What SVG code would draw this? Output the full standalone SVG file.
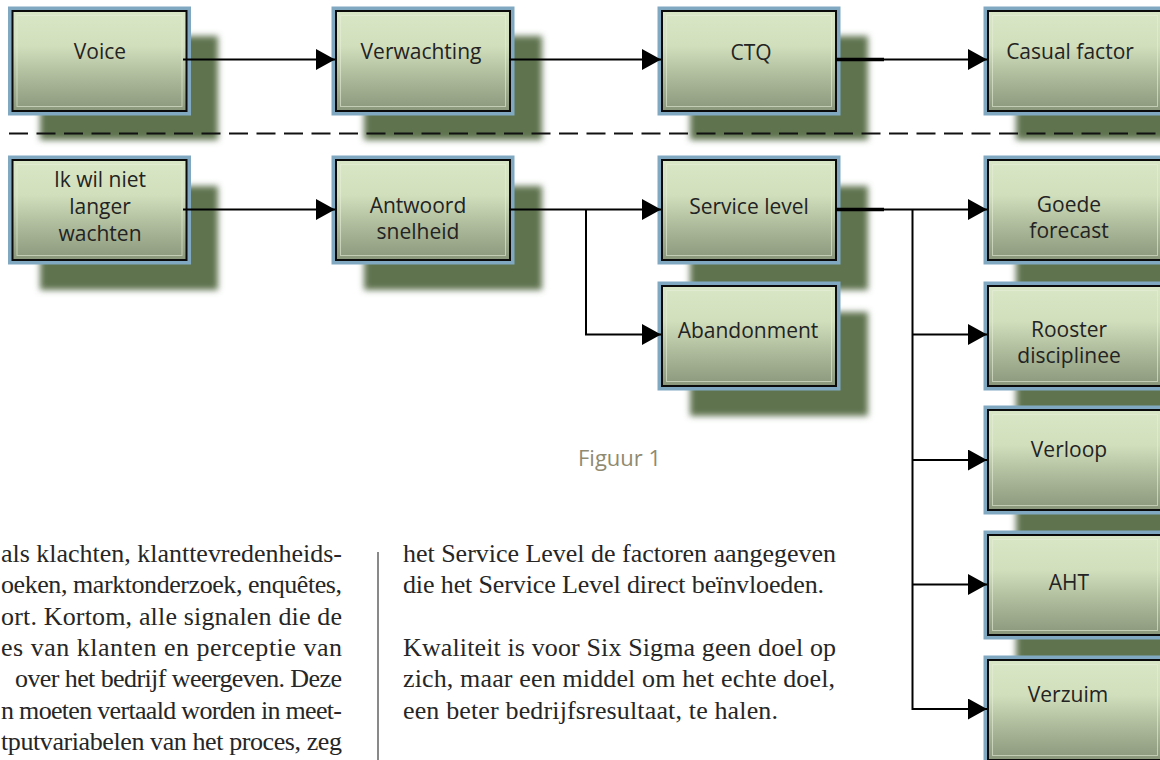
<svg xmlns="http://www.w3.org/2000/svg" width="1160" height="760" viewBox="0 0 1160 760">
<defs>
  <linearGradient id="boxfill" x1="0" y1="0" x2="0" y2="1">
    <stop offset="0" stop-color="#dae7c6"/>
    <stop offset="0.35" stop-color="#d2dfbd"/>
    <stop offset="0.7" stop-color="#a9b697"/>
    <stop offset="1" stop-color="#8b977b"/>
  </linearGradient>
  <filter id="blur" x="-20%" y="-20%" width="140%" height="140%">
    <feGaussianBlur stdDeviation="3"/>
  </filter>
  <marker id="arrow" markerUnits="userSpaceOnUse" markerWidth="20" markerHeight="22" refX="19" refY="10.5" orient="auto">
    <path d="M0,0 L19,10.5 L0,21 Z" fill="#000"/>
  </marker>
</defs>
<style>
  .shadow { fill: #5f7350; filter: url(#blur); }
  .frame { fill: #80a9c1; }
  .box { fill: url(#boxfill); stroke: #0b0b0b; stroke-width: 2; }
  .inner { fill: none; stroke: #e6eed9; stroke-opacity: 0.6; stroke-width: 1; }
  .lbl { font-family: "Open Sans", "Noto Sans", sans-serif; font-size: 21px; fill: #232323; text-anchor: middle; }
  .conn { fill: none; stroke: #000; stroke-width: 2; }
  .thick { fill: none; stroke: #000; stroke-width: 3.4; }
  .dash { fill: none; stroke: #111; stroke-width: 2; stroke-dasharray: 19 8.5; }
  .body { font-family: "Liberation Serif", "Times New Roman", serif; font-size: 26px; fill: #262626; }
  .cap { font-family: "Open Sans", "Noto Sans", sans-serif; font-size: 22px; fill: #8f8a70; }
</style>

<g id="nodes">
  <g id="n-voice">
    <rect class="shadow" x="40" y="36" width="178" height="104"/>
    <rect class="frame" x="8" y="6.5" width="183" height="109"/>
    <rect class="box" x="12.5" y="11" width="174" height="100"/>
    <rect class="inner" x="17" y="15.5" width="165" height="91"/>
    <text class="lbl" x="100" y="59">Voice</text>
  </g>
  <g id="n-verwachting">
    <rect class="shadow" x="364" y="36" width="178" height="104"/>
    <rect class="frame" x="331.5" y="6.5" width="183" height="109"/>
    <rect class="box" x="336" y="11" width="174" height="100"/>
    <rect class="inner" x="340.5" y="15.5" width="165" height="91"/>
    <text class="lbl" x="421" y="59">Verwachting</text>
  </g>
  <g id="n-ctq">
    <rect class="shadow" x="690" y="36" width="178" height="104"/>
    <rect class="frame" x="657.5" y="6.5" width="183" height="109"/>
    <rect class="box" x="662" y="11" width="174" height="100"/>
    <rect class="inner" x="666.5" y="15.5" width="165" height="91"/>
    <text class="lbl" x="751" y="60">CTQ</text>
  </g>
  <g id="n-casual">
    <rect class="shadow" x="1016" y="36" width="178" height="104"/>
    <rect class="frame" x="983.5" y="6.5" width="183" height="109"/>
    <rect class="box" x="988" y="11" width="174" height="100"/>
    <rect class="inner" x="992.5" y="15.5" width="165" height="91"/>
    <text class="lbl" x="1070" y="59">Casual factor</text>
  </g>

  <g id="n-ikwil">
    <rect class="shadow" x="40" y="186" width="178" height="104"/>
    <rect class="frame" x="8" y="155.5" width="183" height="109"/>
    <rect class="box" x="12.5" y="160" width="174" height="100"/>
    <rect class="inner" x="17" y="164.5" width="165" height="91"/>
    <text class="lbl" x="100" y="187">Ik wil niet</text>
    <text class="lbl" x="100" y="214">langer</text>
    <text class="lbl" x="100" y="241">wachten</text>
  </g>
  <g id="n-antwoord">
    <rect class="shadow" x="364" y="186" width="178" height="104"/>
    <rect class="frame" x="331.5" y="155.5" width="183" height="109"/>
    <rect class="box" x="336" y="160" width="174" height="100"/>
    <rect class="inner" x="340.5" y="164.5" width="165" height="91"/>
    <text class="lbl" x="418" y="213">Antwoord</text>
    <text class="lbl" x="418" y="239">snelheid</text>
  </g>
  <g id="n-service">
    <rect class="shadow" x="690" y="186" width="178" height="104"/>
    <rect class="frame" x="657.5" y="155.5" width="183" height="109"/>
    <rect class="box" x="662" y="160" width="174" height="100"/>
    <rect class="inner" x="666.5" y="164.5" width="165" height="91"/>
    <text class="lbl" x="749" y="214">Service level</text>
  </g>
  <g id="n-abandonment">
    <rect class="shadow" x="690" y="312" width="178" height="104"/>
    <rect class="frame" x="657.5" y="281.5" width="183" height="109"/>
    <rect class="box" x="662" y="286" width="174" height="100"/>
    <rect class="inner" x="666.5" y="290.5" width="165" height="91"/>
    <text class="lbl" x="748" y="338">Abandonment</text>
  </g>

  <g id="n-goede">
    <rect class="shadow" x="1016" y="186" width="178" height="104"/>
    <rect class="frame" x="983.5" y="155.5" width="183" height="109"/>
    <rect class="box" x="988" y="160" width="174" height="100"/>
    <rect class="inner" x="992.5" y="164.5" width="165" height="91"/>
    <text class="lbl" x="1069" y="212">Goede</text>
    <text class="lbl" x="1069" y="238">forecast</text>
  </g>
  <g id="n-rooster">
    <rect class="shadow" x="1016" y="312" width="178" height="104"/>
    <rect class="frame" x="983.5" y="281.5" width="183" height="109"/>
    <rect class="box" x="988" y="286" width="174" height="100"/>
    <rect class="inner" x="992.5" y="290.5" width="165" height="91"/>
    <text class="lbl" x="1069" y="337">Rooster</text>
    <text class="lbl" x="1069" y="363">disciplinee</text>
  </g>
  <g id="n-verloop">
    <rect class="shadow" x="1016" y="436" width="178" height="104"/>
    <rect class="frame" x="983.5" y="405.5" width="183" height="109"/>
    <rect class="box" x="988" y="410" width="174" height="100"/>
    <rect class="inner" x="992.5" y="414.5" width="165" height="91"/>
    <text class="lbl" x="1069" y="457">Verloop</text>
  </g>
  <g id="n-aht">
    <rect class="shadow" x="1016" y="561" width="178" height="104"/>
    <rect class="frame" x="983.5" y="530.5" width="183" height="109"/>
    <rect class="box" x="988" y="535" width="174" height="100"/>
    <rect class="inner" x="992.5" y="539.5" width="165" height="91"/>
    <text class="lbl" x="1069" y="590">AHT</text>
  </g>
  <g id="n-verzuim">
    <rect class="shadow" x="1016" y="686" width="178" height="104"/>
    <rect class="frame" x="983.5" y="655.5" width="183" height="109"/>
    <rect class="box" x="988" y="660" width="174" height="100"/>
    <rect class="inner" x="992.5" y="664.5" width="165" height="91"/>
    <text class="lbl" x="1068" y="702">Verzuim</text>
  </g>
</g>

<g id="connectors">
  <path class="dash" d="M9,133.5 H1160"/>
  <path class="conn" d="M183,59.5 H335" marker-end="url(#arrow)"/>
  <path class="conn" d="M509,59.5 H661" marker-end="url(#arrow)"/>
  <path class="thick" d="M836,59.5 H884"/>
  <path class="conn" d="M836,59.5 H987" marker-end="url(#arrow)"/>
  <path class="conn" d="M183,209.5 H335" marker-end="url(#arrow)"/>
  <path class="conn" d="M509,209.5 H661" marker-end="url(#arrow)"/>
  <path class="conn" d="M586,209.5 V334.5 H661" marker-end="url(#arrow)"/>
  <path class="thick" d="M836,209.5 H884"/>
  <path class="conn" d="M836,209.5 H987" marker-end="url(#arrow)"/>
  <path class="conn" d="M912.5,209.5 V709 H987" marker-end="url(#arrow)"/>
  <path class="conn" d="M912.5,334.5 H987" marker-end="url(#arrow)"/>
  <path class="conn" d="M912.5,460 H987" marker-end="url(#arrow)"/>
  <path class="conn" d="M912.5,584.5 H987" marker-end="url(#arrow)"/>
</g>

<text class="cap" x="578" y="466">Figuur 1</text>

<line x1="378" y1="552" x2="378" y2="760" stroke="#4a4a4a" stroke-width="1.3"/>

<g id="text-left" class="body">
  <text x="1" y="562" textLength="341" lengthAdjust="spacing">als klachten, klanttevredenheids-</text>
  <text x="1" y="593" textLength="341" lengthAdjust="spacing">oeken, marktonderzoek, enquêtes,</text>
  <text x="1" y="624.5" textLength="341" lengthAdjust="spacing">ort. Kortom, alle signalen die de</text>
  <text x="1" y="656" textLength="341" lengthAdjust="spacing">es van klanten en perceptie van</text>
  <text x="15" y="687" textLength="327" lengthAdjust="spacing">over het bedrijf weergeven. Deze</text>
  <text x="1" y="718.5" textLength="341" lengthAdjust="spacing">n moeten vertaald worden in meet-</text>
  <text x="1" y="750" textLength="341" lengthAdjust="spacing">tputvariabelen van het proces, zeg</text>
</g>
<g id="text-right" class="body">
  <text x="403" y="562" textLength="433" lengthAdjust="spacing">het Service Level de factoren aangegeven</text>
  <text x="403" y="593" textLength="421" lengthAdjust="spacing">die het Service Level direct beïnvloeden.</text>
  <text x="403" y="656" textLength="433" lengthAdjust="spacing">Kwaliteit is voor Six Sigma geen doel op</text>
  <text x="403" y="687" textLength="432" lengthAdjust="spacing">zich, maar een middel om het echte doel,</text>
  <text x="403" y="718.5" textLength="375" lengthAdjust="spacing">een beter bedrijfsresultaat, te halen.</text>
</g>
</svg>
